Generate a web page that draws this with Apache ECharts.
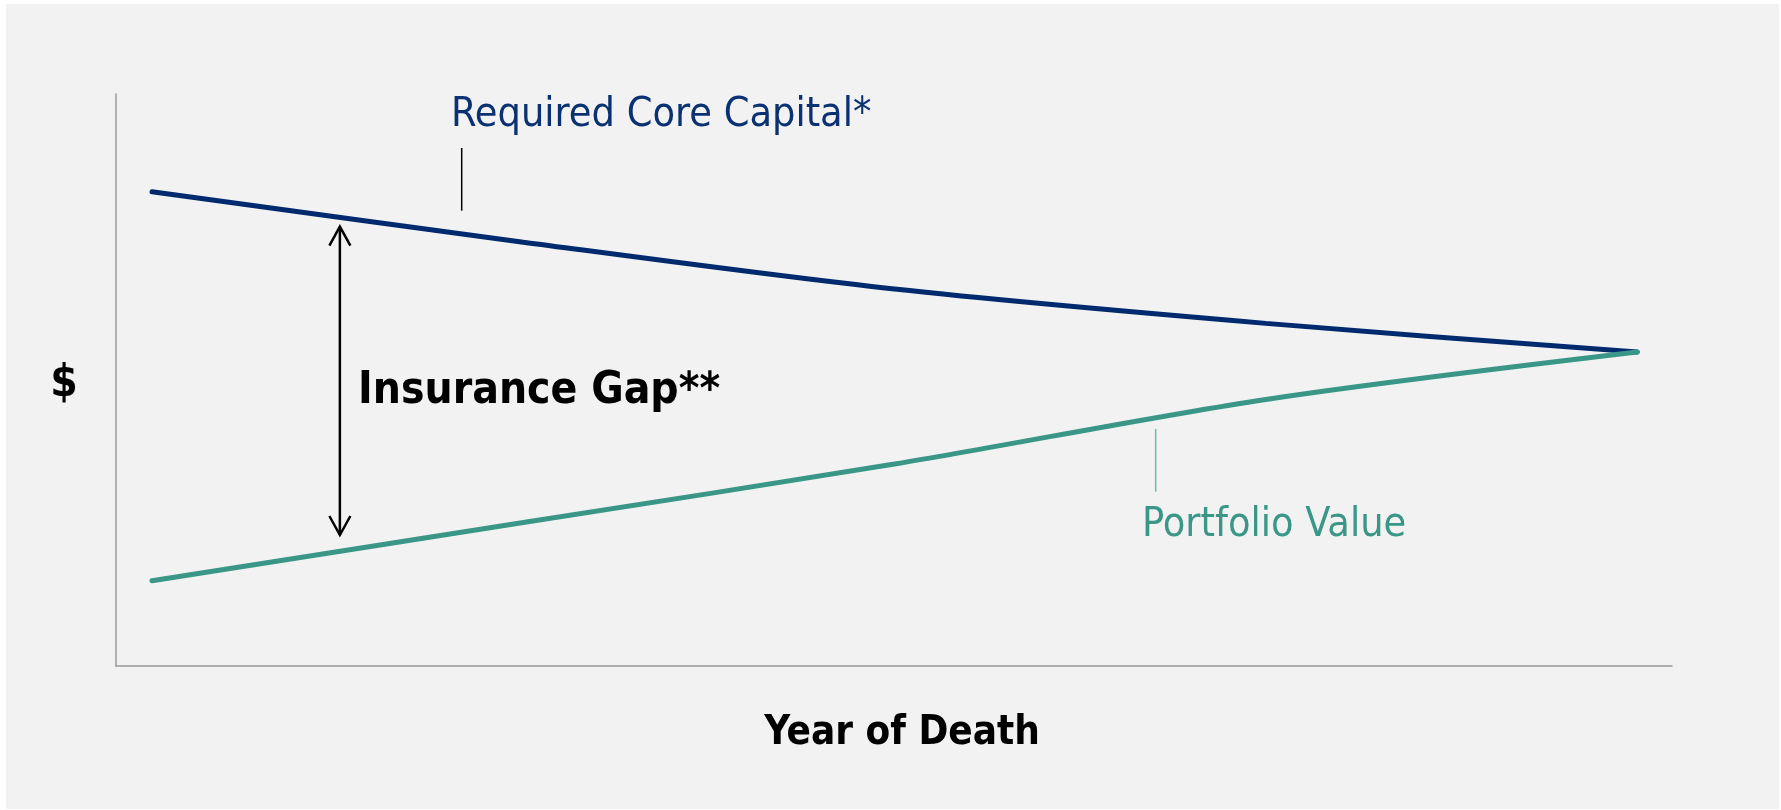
<!DOCTYPE html>
<html>
<head>
<meta charset="utf-8">
<title>Insurance Gap</title>
<script src="https://cdn.jsdelivr.net/npm/echarts/dist/echarts.min.js"></script>
<style>
html, body { margin: 0; padding: 0; background: #ffffff; }
#echarts {
  position: absolute;
  left: 6px;
  top: 4px;
  width: 1773px;
  height: 805px;
  background: #f2f2f2;
}
</style>
</head>
<body>
<div id="echarts"></div>
<script>
// years after start (no tick labels shown in the original)
var yearIndex = [0, 1, 2, 3, 4];
// $ level, arbitrary scale 0-100
var requiredCapital = [82.9, 74.1, 65.9, 59.9, 54.9];
var portfolioValue = [14.9, 25.1, 35.3, 46.6, 54.9];

// where the double arrow sits (x in years, y in $)
var gapX = 0.506;
var gapTop = 76.8;
var gapBottom = 22.9;

var FONT = '"DejaVu Sans Condensed", "DejaVu Sans", sans-serif';

function pairs(xs, ys) {
  return xs.map(function (x, i) { return [x, ys[i]]; });
}

var myChart = echarts.init(document.getElementById('echarts'));

var option = {
  animation: false,
  backgroundColor: 'transparent',
  grid: {
    left: 110,
    top: 90,
    width: 1556,
    height: 572
  },
  xAxis: {
    type: 'value',
    min: -0.097,
    max: 4.094,
    axisLine: { show: true, onZero: false, lineStyle: { color: '#9a9a9a', width: 1.5 } },
    axisTick: { show: false },
    axisLabel: { show: false },
    splitLine: { show: false }
  },
  yAxis: {
    type: 'value',
    min: 0,
    max: 100,
    axisLine: { show: true, onZero: false, lineStyle: { color: '#9a9a9a', width: 1.5 } },
    axisTick: { show: false },
    axisLabel: { show: false },
    splitLine: { show: false }
  },
  series: [
    {
      name: 'Required Core Capital*',
      type: 'line',
      symbol: 'none',
      smooth: 0.3,
      data: pairs(yearIndex, requiredCapital),
      lineStyle: { color: '#002a6e', width: 5, cap: 'round' }
    },
    {
      name: 'Portfolio Value',
      type: 'line',
      symbol: 'none',
      smooth: 0.3,
      data: pairs(yearIndex, portfolioValue),
      lineStyle: { color: '#3a9686', width: 5, cap: 'round' }
    }
  ]
};
myChart.setOption(option);

// annotations: arrow between the two lines, labels and pointer ticks
var arrowTop = myChart.convertToPixel({ gridIndex: 0 }, [gapX, gapTop]);
var arrowBot = myChart.convertToPixel({ gridIndex: 0 }, [gapX, gapBottom]);
var ax = arrowTop[0];

myChart.setOption({
  graphic: [
    { type: 'line', shape: { x1: ax, y1: arrowTop[1], x2: ax, y2: arrowBot[1] }, style: { stroke: '#000', lineWidth: 2.5 } },
    { type: 'polyline', shape: { points: [[ax - 10.5, arrowTop[1] + 19], [ax, arrowTop[1]], [ax + 10.5, arrowTop[1] + 19]] }, style: { stroke: '#000', lineWidth: 2.5, fill: null } },
    { type: 'polyline', shape: { points: [[ax - 10.5, arrowBot[1] - 19], [ax, arrowBot[1]], [ax + 10.5, arrowBot[1] - 19]] }, style: { stroke: '#000', lineWidth: 2.5, fill: null } },

    { type: 'line', shape: { x1: 455.7, y1: 144, x2: 455.7, y2: 206.7 }, style: { stroke: '#000', lineWidth: 1.5 } },
    { type: 'line', shape: { x1: 1149.7, y1: 425, x2: 1149.7, y2: 487.7 }, style: { stroke: '#5fbfb0', lineWidth: 1.5 } },

    { type: 'text', left: 445, top: 91, style: { text: 'Required Core Capital*', fill: '#0a3272', font: '41px ' + FONT } },
    { type: 'text', left: 1136, top: 501, style: { text: 'Portfolio Value', fill: '#3a9686', font: '41px ' + FONT } },
    { type: 'text', left: 352, top: 366, style: { text: 'Insurance Gap**', fill: '#000', font: 'bold 44px ' + FONT } },
    { type: 'text', x: 58, y: 381, style: { text: '$', fill: '#000', font: 'bold 44px ' + FONT, textAlign: 'center', textVerticalAlign: 'middle' } },
    { type: 'text', x: 896, y: 730, style: { text: 'Year of Death', fill: '#000', font: 'bold 40px ' + FONT, textAlign: 'center', textVerticalAlign: 'middle' } }
  ]
});
</script>
</body>
</html>
